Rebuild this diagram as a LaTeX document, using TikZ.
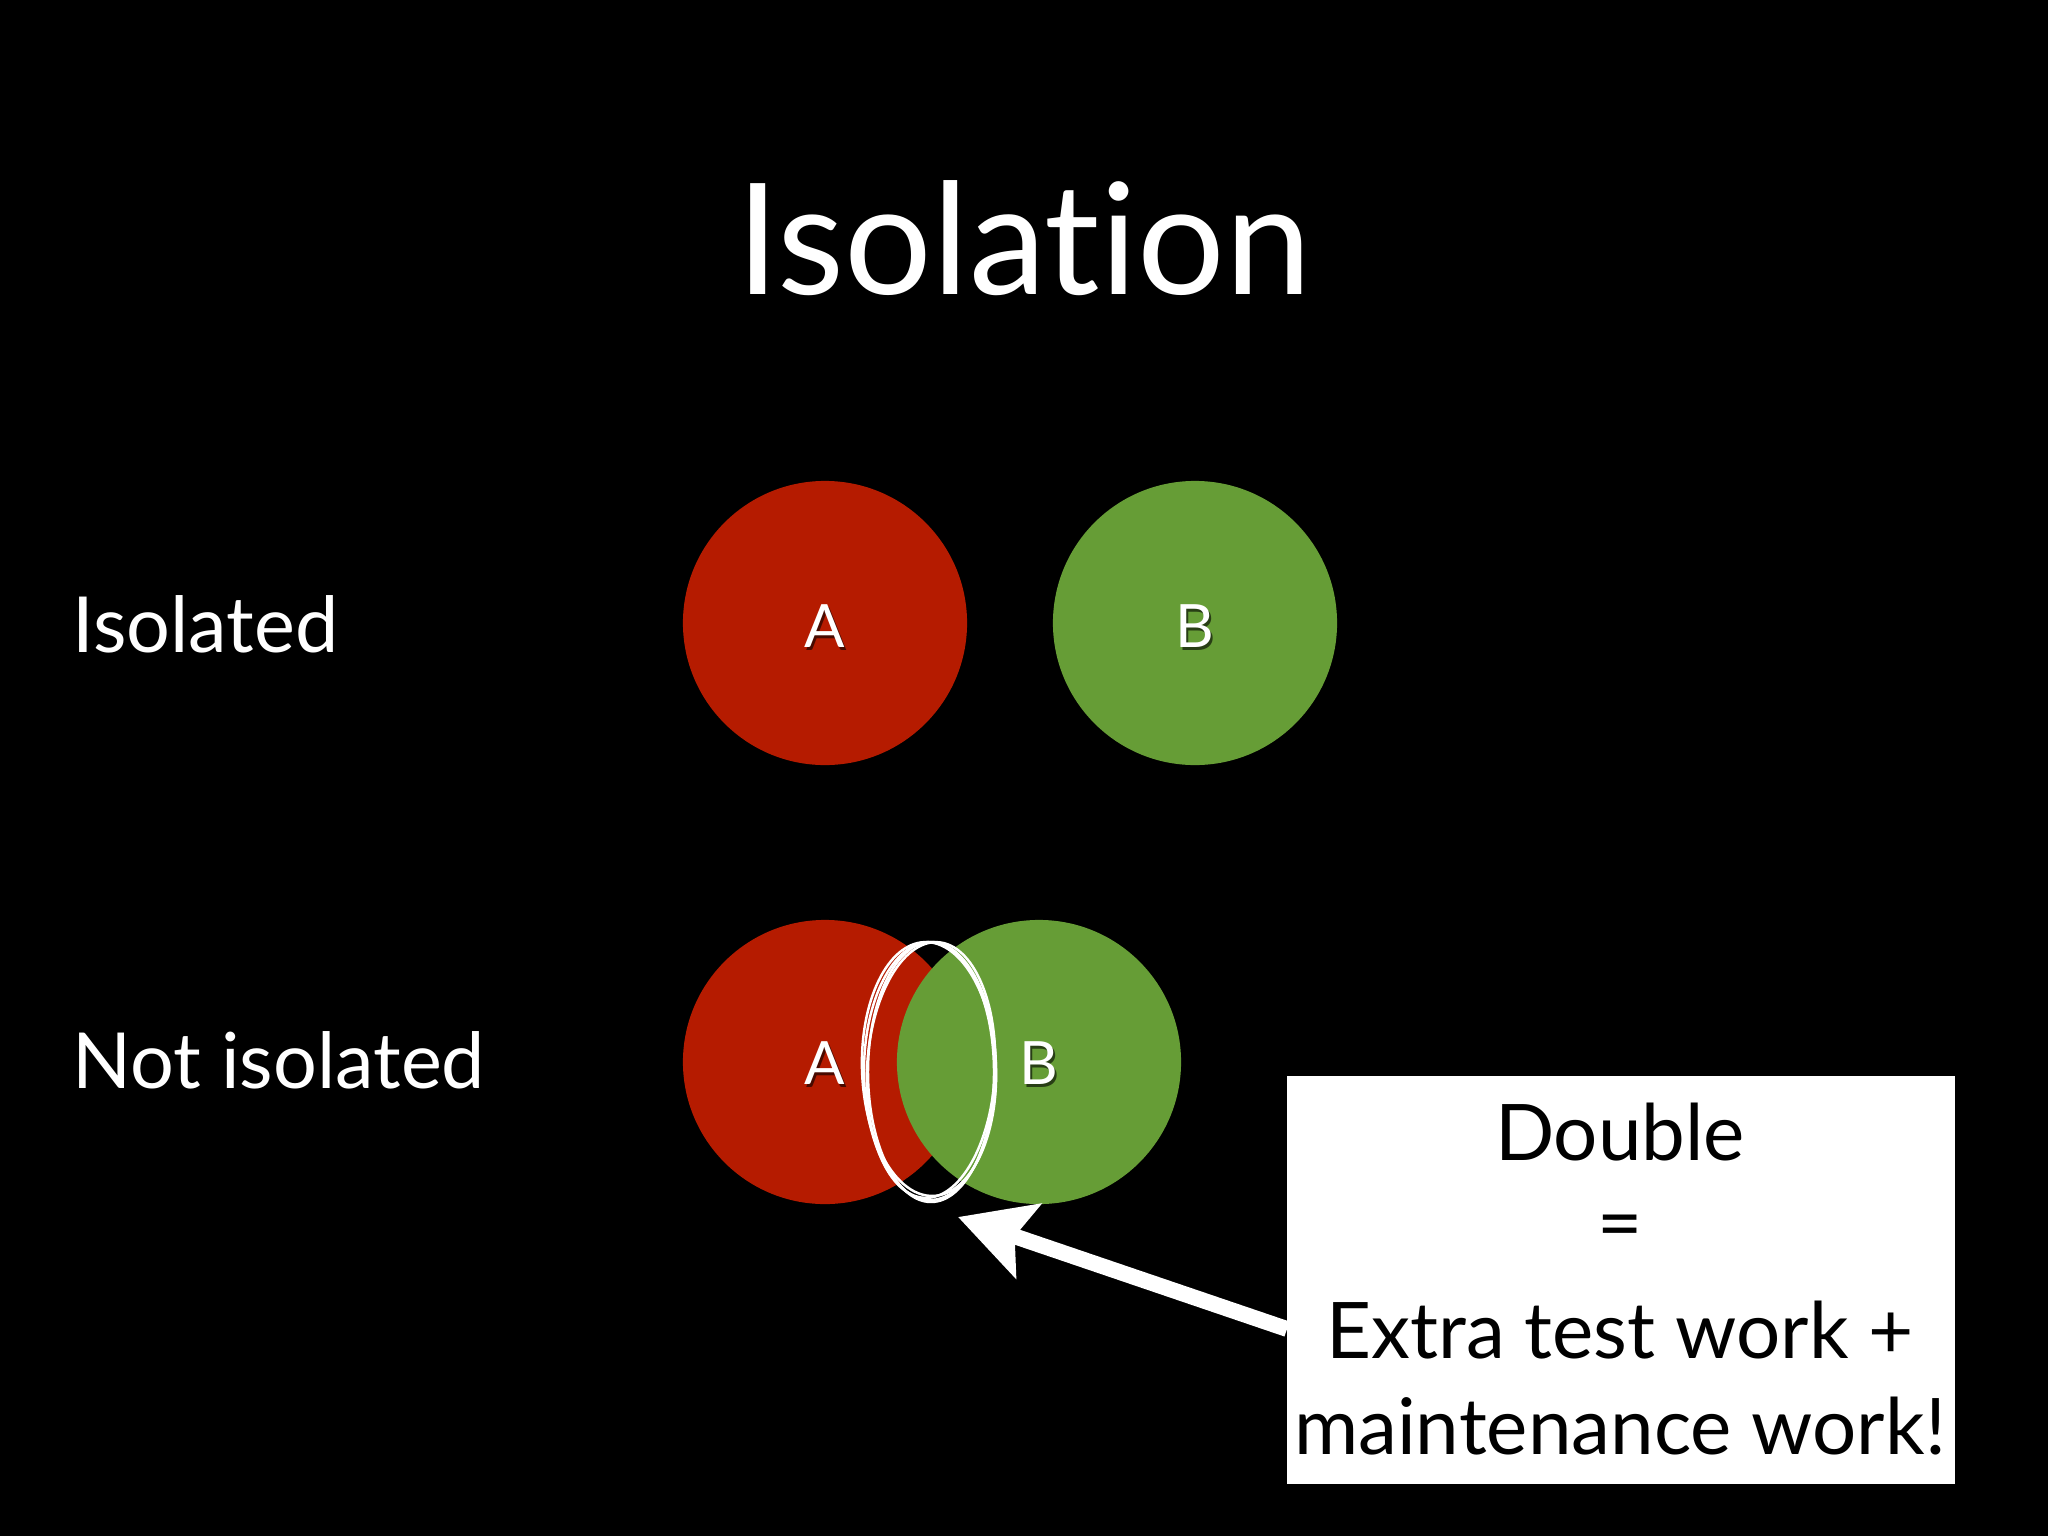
\documentclass[tikz,border=0pt]{standalone}
\usepackage{fontspec}
\setmainfont{Lato}[Ligatures=NoCommon]
\usetikzlibrary{arrows.meta}
\definecolor{cred}{RGB}{181,27,0}
\definecolor{cgreen}{RGB}{102,157,54}
\tikzset{
  blob/.style={circle, minimum size=80.8pt, inner sep=0pt, draw=none},
  letter/.style={text=white, font=\fontsize{17}{17}\selectfont, anchor=base, inner sep=0pt},
  shadowletter/.style={text=black, opacity=0.6, font=\fontsize{17}{17}\selectfont, anchor=base, inner sep=0pt},
  rowlabel/.style={text=white, font=\fontsize{22}{22}\selectfont, anchor=base west, inner sep=0pt},
  sketch/.style={draw=white, line width=0.7pt},
  callout/.style={fill=white, draw=none, minimum width=190pt, minimum height=116pt, inner sep=0pt},
  boxtext/.style={text=black, font=\fontsize{22.2}{22.2}\selectfont, anchor=base, inner sep=0pt},
  bigarrow/.style={draw=white, line width=4.5pt, -{Stealth[length=21pt, width=22pt, inset=4pt]}}
}
\begin{document}
\begin{tikzpicture}[x=0.01cm, y=-0.01cm]
  \fill[black] (0,0) rectangle (2048,1536);
  \useasboundingbox (0,0) rectangle (2048,1536);

  % title
  \node[text=white, font=\fontsize{44}{44}\selectfont, anchor=base, inner sep=0pt] (title) at (1024,294) {Isolation};

  % row labels
  \node[rowlabel] (lbl1) at (72,652) {Isolated};
  \node[rowlabel] (lbl2) at (72,1088) {Not isolated};

  % isolated circles
  \node[blob, fill=cred] (a1) at (825,623) {};
  \node[blob, fill=cgreen] (b1) at (1195,623) {};
  \node[shadowletter] at (827,650) {A};
  \node[letter] (ta1) at (825,647) {A};
  \node[shadowletter] at (1197,650) {B};
  \node[letter] (tb1) at (1195,647) {B};

  % not isolated circles
  \node[blob, fill=cred] (a2) at (825,1062) {};
  \node[blob, fill=cgreen] (b2) at (1039,1062) {};
  \node[shadowletter] at (827,1087) {A};
  \node[letter] (ta2) at (825,1084) {A};
  \node[shadowletter] at (1041,1087) {B};
  \node[letter] (tb2) at (1039,1084) {B};

  % hand drawn ellipse round the overlap
  \draw[sketch] (930,1071) ellipse [x radius=66, y radius=129];
  \draw[sketch, rotate around={-3:(931,1070)}] (931,1070) ellipse [x radius=64, y radius=128];
  \draw[sketch, rotate around={2:(929,1069)}] (929,1069) ellipse [x radius=67, y radius=127];
  \draw[sketch] (931,1072) ellipse [x radius=63, y radius=130];

  % callout box
  \node[callout, anchor=north west] (box) at (1286,1075) {};
  \node[boxtext] (t1) at (1620,1160) {Double};
  \node[boxtext] (t2) at (1620,1250) {=};
  \node[boxtext] (t3) at (1620,1358) {Extra test work +};
  \node[boxtext] (t4) at (1620,1454) {maintenance work!};

  % arrow
  \coordinate (tip) at (958,1217);
  \coordinate (start) at (1287,1329);
  \draw[bigarrow] (start) -- (tip);
\end{tikzpicture}
\end{document}
